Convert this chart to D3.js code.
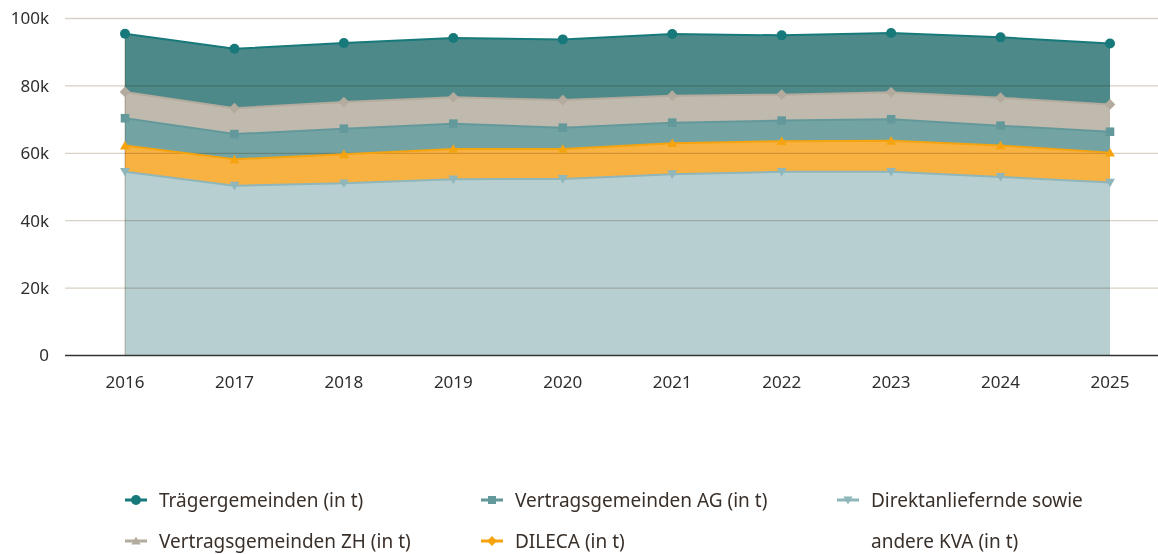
<!DOCTYPE html>
<html><head><meta charset="utf-8">
<script src="https://cdn.jsdelivr.net/npm/d3@7"></script>
<style>
html,body{margin:0;padding:0;background:#fff;}
svg{display:block;font-family:"Noto Sans","Open Sans",sans-serif;}
</style></head>
<body>
<svg id="chart" width="1158" height="554"></svg>
<script>
const years = ["2016","2017","2018","2019","2020","2021","2022","2023","2024","2025"];
const direkt = [54500, 50400, 51100, 52300, 52400, 53800, 54500, 54500, 53000, 51300];
const dileca = [7800, 7800, 8600, 9000, 8900, 9200, 9100, 9200, 9300, 8900];
const vertragAG = [8100, 7500, 7600, 7500, 6300, 6100, 6100, 6400, 5900, 6200];
const vertragZH = [7800, 7700, 7900, 7800, 8200, 8000, 7700, 8000, 8300, 8100];
const traeger = [17300, 17600, 17500, 17600, 18000, 18300, 17600, 17600, 17900, 18100];
const yTicks = [0, 20000, 40000, 60000, 80000, 100000];
const yTickLabels = ["0", "20k", "40k", "60k", "80k", "100k"];

// stacking order bottom -> top
const series = [
  {key:"direkt", name:"Direktanliefernde sowie andere KVA (in t)", values:direkt, fill:"#b8cfd1", line:"#8fb6ba", marker:"triangle-down"},
  {key:"dileca", name:"DILECA (in t)", values:dileca, fill:"#f8b242", line:"#f5a30f", marker:"triangle"},
  {key:"ag", name:"Vertragsgemeinden AG (in t)", values:vertragAG, fill:"#74a3a3", line:"#64999b", marker:"square"},
  {key:"zh", name:"Vertragsgemeinden ZH (in t)", values:vertragZH, fill:"#c0b9ad", line:"#b3ab9d", marker:"diamond"},
  {key:"traeger", name:"Trägergemeinden (in t)", values:traeger, fill:"#4e898a", line:"#17797a", marker:"circle"}
];

const table = years.map((y,i)=>{
  const o = {year:y};
  series.forEach(s=>o[s.key]=s.values[i]);
  return o;
});
const stack = d3.stack().keys(series.map(s=>s.key))(table);

const svg = d3.select("#chart");
const x = d3.scalePoint().domain(years).range([125, 1110]);
const y = d3.scaleLinear().domain([0, 100000]).range([355.5, 18.5]);

const area = d3.area().x((d,i)=>x(years[i])).y0(d=>y(d[0])).y1(d=>y(d[1]));
const lineG = d3.line().x((d,i)=>x(years[i])).y(d=>y(d[1]));

const gA = svg.append("g");
stack.forEach((layer, li)=>{
  const s = series[li];
  gA.append("path").attr("d", area(layer)).attr("fill", s.fill);
});
const grid = svg.append("g").style("mix-blend-mode","multiply");
yTicks.filter(t=>t>0).forEach(t=>{
  grid.append("line").attr("x1",65).attr("x2",1158).attr("y1",y(t)).attr("y2",y(t))
    .attr("stroke","#d8d1c6").attr("stroke-width",1.3);
});
svg.append("line").attr("x1",x(years[0])).attr("x2",x(years[0])).attr("y1",y(0)).attr("y2",y(stack[4][0][1]))
  .attr("stroke","#c8c2b6").attr("stroke-width",1).style("mix-blend-mode","multiply");

stack.forEach((layer, li)=>{
  const s = series[li];
  svg.append("path").attr("d", lineG(layer)).attr("fill","none").attr("stroke", s.line).attr("stroke-width",2);
});

function markerPath(type, size){
  const r = size;
  switch(type){
    case "circle": return d3.symbol(d3.symbolCircle, Math.PI*r*r)();
    case "square": return `M${-r},${-r}H${r}V${r}H${-r}Z`;
    case "diamond": return `M0,${-r*1.25}L${r*1.25},0L0,${r*1.25}L${-r*1.25},0Z`;
    case "triangle": return `M0,${-r*1.1}L${r*1.15},${r*0.9}L${-r*1.15},${r*0.9}Z`;
    case "triangle-down": return `M0,${r*1.1}L${r*1.15},${-r*0.9}L${-r*1.15},${-r*0.9}Z`;
  }
}
stack.forEach((layer, li)=>{
  const s = series[li];
  const sz = s.marker==="circle"?5:4.3;
  svg.append("g").selectAll("path").data(layer).join("path")
    .attr("d", markerPath(s.marker, sz))
    .attr("transform",(d,i)=>`translate(${x(years[i])},${y(d[1])})`)
    .attr("fill", s.line);
});

const xAxis = svg.append("g").attr("transform",`translate(0,${y(0)})`);
xAxis.append("line").attr("x1",65).attr("x2",1158).attr("stroke","#333").attr("stroke-width",1.5);
xAxis.selectAll("text").data(years).join("text")
  .attr("x",d=>x(d)).attr("y",27).attr("dy","0.35em").attr("text-anchor","middle")
  .attr("font-size",17).attr("fill","#2e2e2e").text(d=>d);

svg.append("g").selectAll("text").data(yTicks).join("text")
  .attr("x",49).attr("y",d=>y(d)).attr("dy","0.35em").attr("text-anchor","end")
  .attr("font-size",17).attr("fill","#2e2e2e").text((d,i)=>yTickLabels[i]);

const legendItems = [
  {s:series[4], col:0, row:0, lines:["Trägergemeinden (in t)"], sym:"circle"},
  {s:series[2], col:1, row:0, lines:["Vertragsgemeinden AG (in t)"], sym:"square"},
  {s:series[0], col:2, row:0, lines:["Direktanliefernde sowie","andere KVA (in t)"], sym:"triangle-down"},
  {s:series[3], col:0, row:1, lines:["Vertragsgemeinden ZH (in t)"], sym:"triangle"},
  {s:series[1], col:1, row:1, lines:["DILECA (in t)"], sym:"diamond"}
];
const colX = [125, 481, 837];
const rowY = [500, 541];
const lg = svg.append("g");
legendItems.forEach(it=>{
  const g = lg.append("g").attr("transform",`translate(${colX[it.col]},${rowY[it.row]})`);
  g.append("line").attr("x1",0).attr("x2",22).attr("y1",0).attr("y2",0).attr("stroke",it.s.line).attr("stroke-width",3);
  g.append("path").attr("d",markerPath(it.sym, it.sym==="circle"?5:4)).attr("transform","translate(11,0)").attr("fill",it.s.line);
  it.lines.forEach((t,k)=>{
    g.append("text").attr("x",34).attr("y",k*41).attr("dy","0.35em").attr("font-size",19).attr("fill","#3a302a").text(t);
  });
});
</script>
</body></html>
